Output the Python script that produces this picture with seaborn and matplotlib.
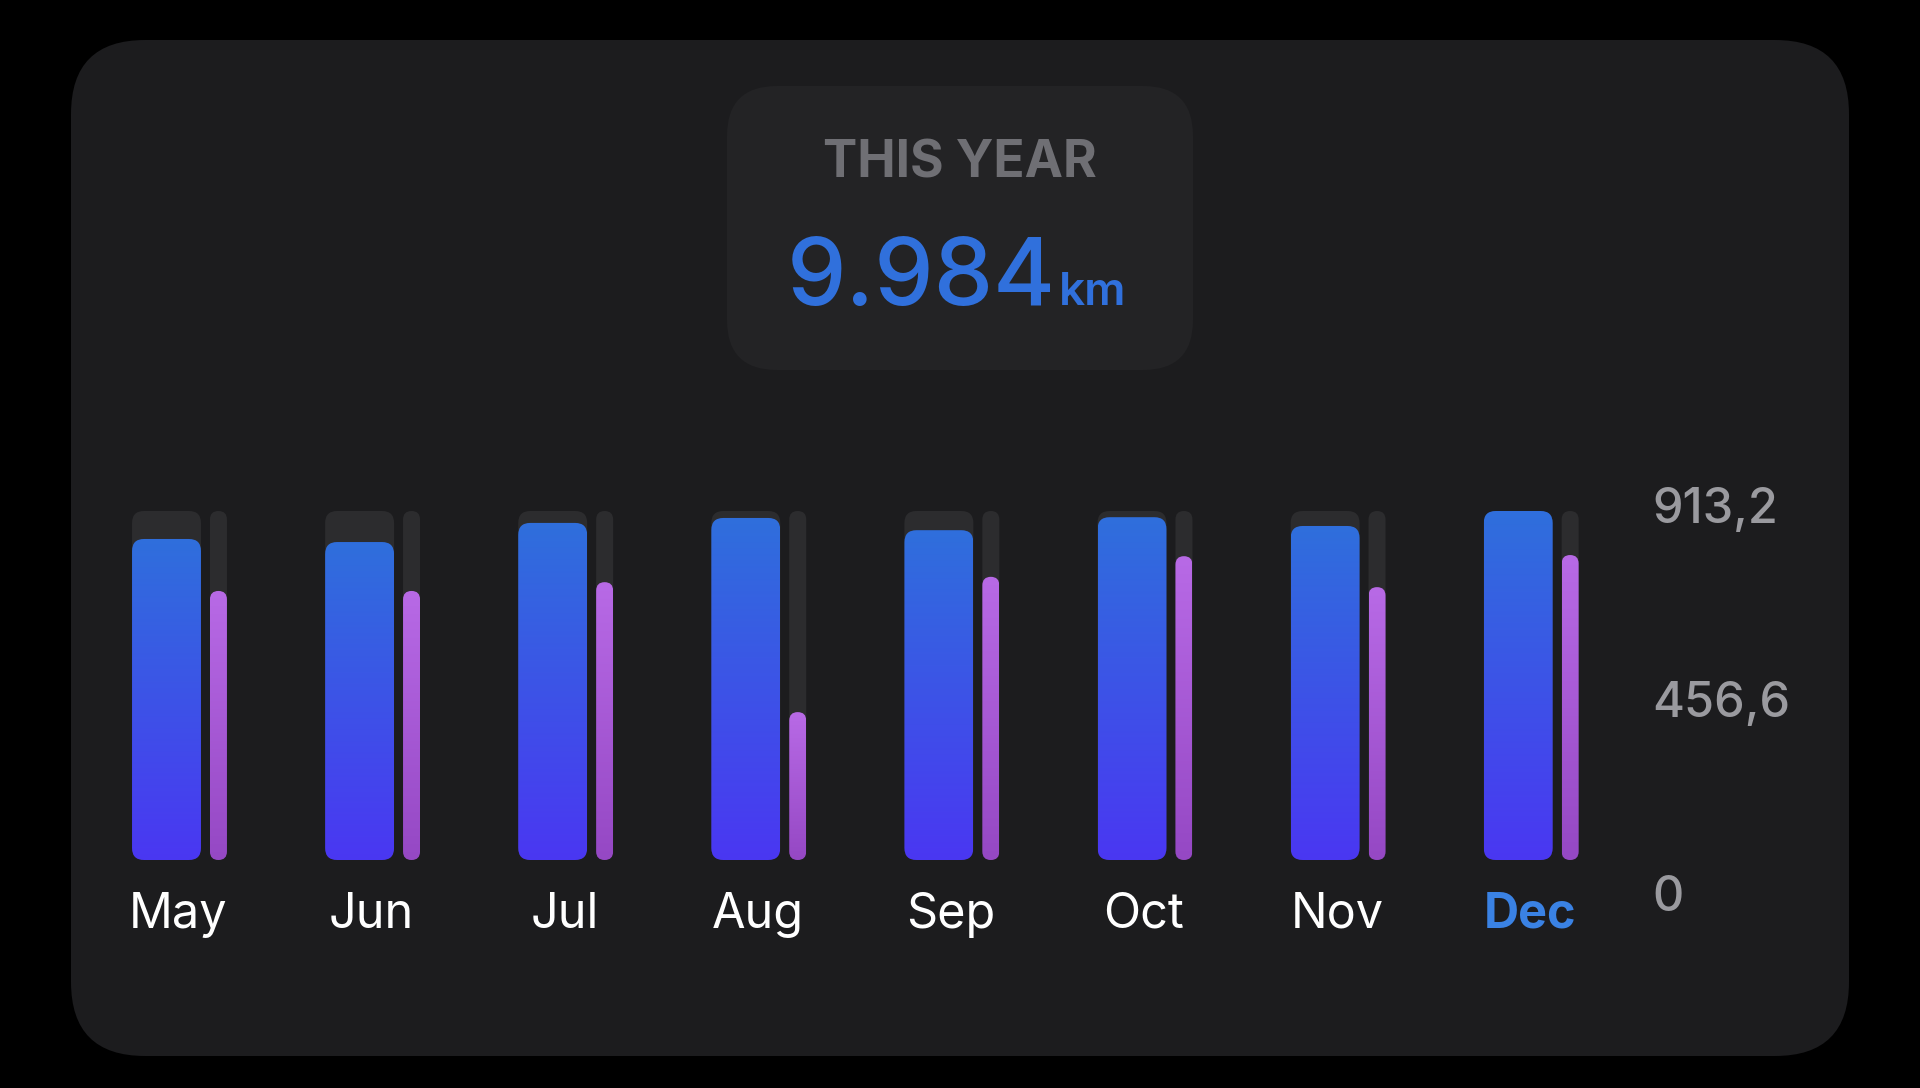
import numpy as np
import pandas as pd
import matplotlib
matplotlib.use('agg')
import matplotlib.pyplot as plt
import seaborn as sns
from matplotlib.patches import FancyBboxPatch
from matplotlib.colors import LinearSegmentedColormap
from matplotlib.ticker import FuncFormatter

months = ['May', 'Jun', 'Jul', 'Aug', 'Sep', 'Oct', 'Nov', 'Dec']
distance_km = [840, 832, 882, 895, 863, 897, 874, 913.2]
compare_km = [704, 704, 727, 387, 741, 795, 714, 798]
scale_ticks = [0, 456.6, 913.2]
header = 'THIS YEAR'
total_label = '9.984'
unit_label = 'km'

# colours
BG = '#000000'
CARD = '#1c1c1e'
BOX = '#232325'
TRACK = '#2c2c2e'
BLUE = '#3070dc'
BLUE_TOP, BLUE_BOT = '#2f6fdc', '#4a37f2'
PURPLE_TOP, PURPLE_BOT = '#b86ae6', '#9548c4'
HILITE = '#3a82e4'
GREY = '#9a9a9f'

sns.set_theme(style='dark')
plt.rcParams['font.family'] = ['Inter', 'DejaVu Sans']

W, H = 1920, 1088
fig = plt.figure(figsize=(W / 100, H / 100), dpi=100, facecolor=BG)

# card + header box in pixel coords
bg = fig.add_axes([0, 0, 1, 1])
bg.set_xlim(0, W)
bg.set_ylim(H, 0)
bg.axis('off')
bg.add_patch(FancyBboxPatch((71, 40), 1778, 1016, boxstyle='round,pad=0,rounding_size=74',
                            fc=CARD, ec='none'))
bg.add_patch(FancyBboxPatch((727, 86), 466, 284, boxstyle='round,pad=0,rounding_size=50',
                            fc=BOX, ec='none'))
bg.text(960, 178, header, ha='center', va='baseline', fontsize=37, fontweight='bold', color='#6f6f74')
bg.text(1056, 305, total_label, ha='right', va='baseline', fontsize=68, fontweight='medium', color=BLUE)
bg.text(1059, 305, unit_label, ha='left', va='baseline', fontsize=33, fontweight='semibold', color=BLUE)

# chart area
x0_px, step_px = 166.5, 193.1
base_px, top_px, track_top_px = 860, 505, 511
left_px = x0_px - 0.6 * step_px
right_px = x0_px + 7.6 * step_px
ax = fig.add_axes([left_px / W, (H - base_px) / H, (right_px - left_px) / W, (base_px - top_px) / H])
ax.set_facecolor('none')
for s in ax.spines.values():
    s.set_visible(False)

pos = np.arange(len(months))
df = pd.DataFrame({
    'month': months,
    'pos': pos,
    'pos_cmp': pos + 0.269,
    'distance': distance_km,
    'compare': compare_km,
    'track': scale_ticks[-1],
})

xlim = (-0.6, 7.6)
ylim = (0, scale_ticks[-1] * (base_px - top_px) / (base_px - track_top_px))


def bars(x, y, width):
    n = len(ax.patches)
    sns.barplot(data=df, x=x, y=y, native_scale=True, width=width, color='grey',
                saturation=1, errorbar=None, ax=ax)
    return ax.patches[n:]


groups = [
    (bars('pos', 'track', 0.357), 12, TRACK, None, 1),
    (bars('pos_cmp', 'track', 0.088), 9, TRACK, None, 1),
    (bars('pos', 'distance', 0.357), 12, BLUE_TOP, BLUE_BOT, 2),
    (bars('pos_cmp', 'compare', 0.088), 9, PURPLE_TOP, PURPLE_BOT, 2),
]
ax.set_xlim(*xlim)
ax.set_ylim(*ylim)
ax.set(xlabel='', ylabel='')

sx = ax.transData.transform((1, 0))[0] - ax.transData.transform((0, 0))[0]
sy = ax.transData.transform((0, 1))[1] - ax.transData.transform((0, 0))[1]
grad = np.linspace(0, 1, 256).reshape(-1, 1)

for patches, radius, top, bot, z in groups:
    for p in patches:
        x, y, w, h = p.get_x(), p.get_y(), p.get_width(), p.get_height()
        p.set_visible(False)
        r = min(radius, w * sx / 2) / sx
        shape = FancyBboxPatch((x, y), w, h, boxstyle=f'round,pad=0,rounding_size={r}',
                               mutation_aspect=sx / sy, fc=top if bot is None else 'none',
                               ec='none', zorder=z)
        ax.add_patch(shape)
        if bot is not None:
            cmap = LinearSegmentedColormap.from_list('g', [bot, top])
            ax.imshow(grad, extent=(x, x + w, y, y + h), origin='lower', cmap=cmap,
                      aspect='auto', interpolation='bicubic', clip_path=shape, zorder=z)

ax.set_xlim(*xlim)
ax.set_ylim(*ylim)
ax.set_yticks([])
ax.set_xticks(pos + 0.062, months)
ax.tick_params(axis='x', length=0, pad=23, labelsize=35, labelcolor='white')
last = ax.get_xticklabels()[-1]
last.set_color(HILITE)
last.set_fontweight('bold')

# value scale on the right
sc = fig.add_axes([left_px / W, (H - 893) / H, (1640 - left_px) / W, (893 - 505) / H])
sc.set_facecolor('none')
for s in sc.spines.values():
    s.set_visible(False)
sc.set_ylim(0, scale_ticks[-1])
sc.set_xticks([])
sc.yaxis.tick_right()
sc.set_yticks(scale_ticks)
sc.yaxis.set_major_formatter(FuncFormatter(lambda v, _: f'{v:.1f}'.replace('.', ',') if v else '0'))
sc.tick_params(axis='y', length=0, pad=9, labelsize=35, labelcolor=GREY)
for lab in sc.get_yticklabels():
    lab.set_fontweight('medium')

fig.savefig('out.png', dpi=100, facecolor=BG)
